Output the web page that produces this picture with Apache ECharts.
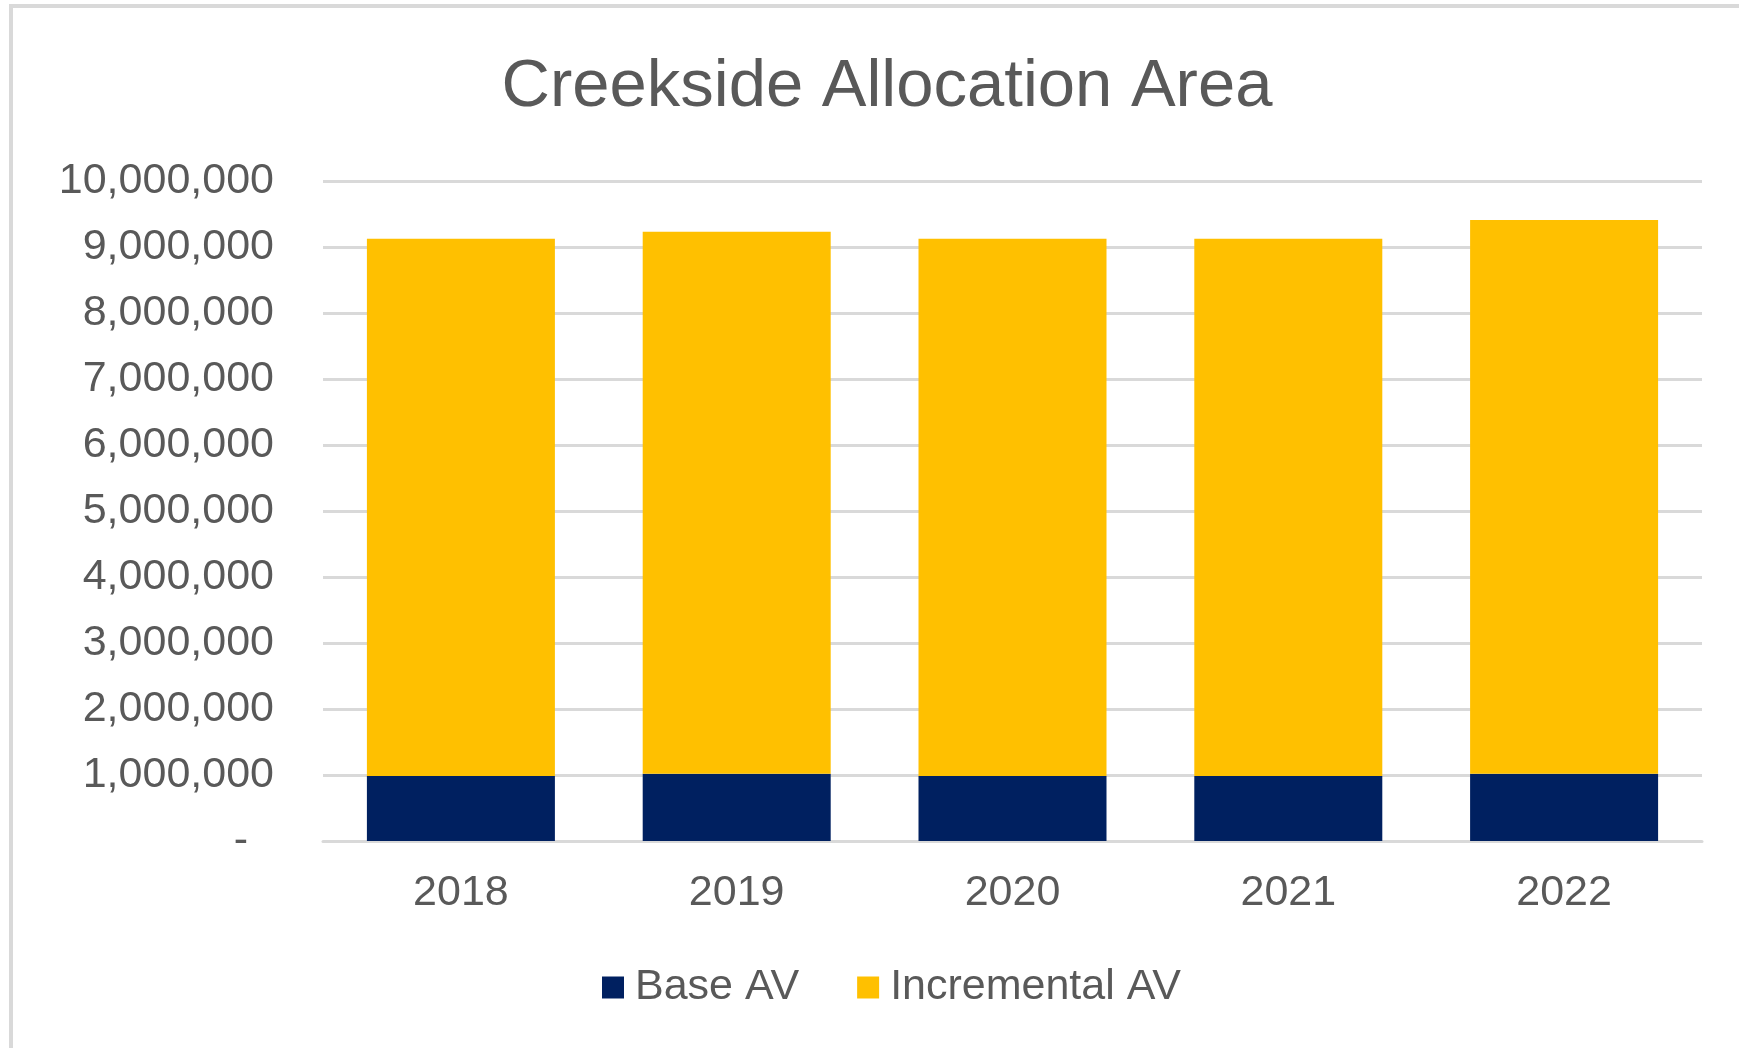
<!DOCTYPE html>
<html>
<head>
<meta charset="utf-8">
<script src="https://cdn.jsdelivr.net/npm/echarts@6/dist/echarts.min.js"></script>
<style>
html,body{margin:0;padding:0;background:#fff;}
#chart{width:1739px;height:1048px;}
</style>
</head>
<body>
<div id="chart"></div>
<script>
var categories = ['2018', '2019', '2020', '2021', '2022'];
var baseAV = [985000, 1020000, 985000, 985000, 1020000];
var incrementalAV = [8140000, 8210000, 8140000, 8140000, 8390000];
var yTicks = [0, 1000000, 2000000, 3000000, 4000000, 5000000, 6000000, 7000000, 8000000, 9000000, 10000000];

var chart = echarts.init(document.getElementById('chart'), null, {renderer: 'canvas'});
var font = 'Liberation Sans, Arial, sans-serif';
var textColor = '#595959';

chart.setOption({
  backgroundColor: '#ffffff',
  animation: false,
  graphic: [{
    type: 'rect',
    shape: {x: 11, y: 6, width: 1760, height: 1080},
    style: {fill: 'none', stroke: '#d9d9d9', lineWidth: 4},
    silent: true
  }],
  title: {
    text: 'Creekside Allocation Area',
    left: 887,
    top: 54,
    textAlign: 'center',
    padding: 0,
    textStyle: {fontFamily: font, fontSize: 67, fontWeight: 'normal', color: textColor}
  },
  legend: {
    data: ['Base AV', 'Incremental AV'],
    left: 602,
    top: 966,
    padding: 0,
    itemWidth: 22,
    itemHeight: 22,
    itemGap: 58,
    icon: 'rect',
    textStyle: {fontFamily: font, fontSize: 43, color: textColor, padding: [0, 0, 0, 6]}
  },
  grid: {left: 323, right: 37, top: 181, bottom: 207, containLabel: false},
  xAxis: {
    type: 'category',
    data: categories,
    axisLine: {show: true, lineStyle: {color: '#d9d9d9', width: 3}},
    axisTick: {show: false},
    axisLabel: {fontFamily: font, fontSize: 43, color: textColor, margin: 31}
  },
  yAxis: {
    type: 'value',
    min: yTicks[0],
    max: yTicks[yTicks.length - 1],
    interval: yTicks[1] - yTicks[0],
    axisLine: {show: false},
    axisTick: {show: false},
    splitLine: {show: true, lineStyle: {color: '#d9d9d9', width: 3}},
    axisLabel: {
      fontFamily: font, fontSize: 43, color: textColor, margin: 49,
      formatter: function (v) {
        if (v === 0) return '{dash|-}';
        return v.toLocaleString('en-US');
      },
      rich: {dash: {fontFamily: font, fontSize: 43, color: textColor, padding: [0, 26, 0, 0]}}
    }
  },
  series: [
    {
      name: 'Base AV',
      type: 'bar',
      stack: 'av',
      data: baseAV,
      barWidth: 188,
      itemStyle: {color: '#002060'}
    },
    {
      name: 'Incremental AV',
      type: 'bar',
      stack: 'av',
      data: incrementalAV,
      barWidth: 188,
      itemStyle: {color: '#FFC000'}
    }
  ]
});
</script>
</body>
</html>
